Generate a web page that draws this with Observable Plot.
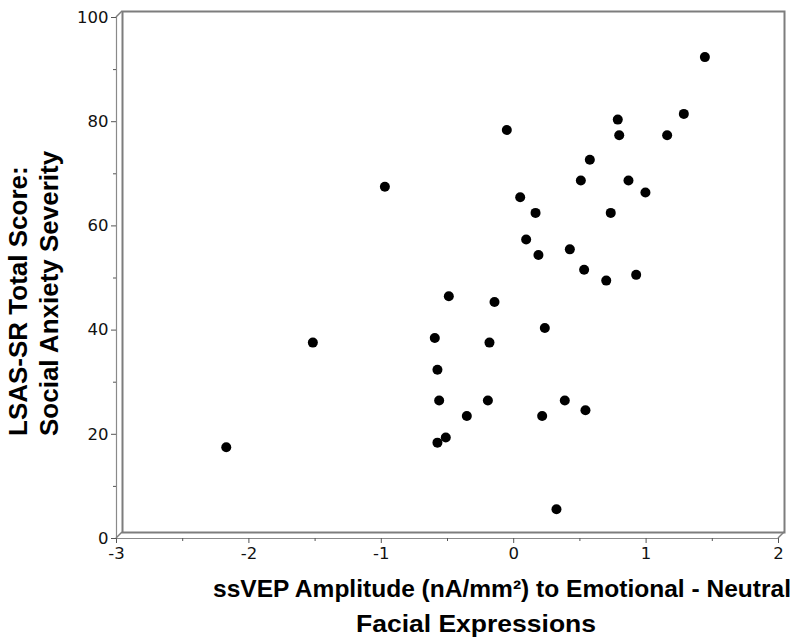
<!DOCTYPE html>
<html>
<head>
<meta charset="utf-8">
<script src="https://cdn.jsdelivr.net/npm/d3@7"></script>
<script src="https://cdn.jsdelivr.net/npm/@observablehq/plot@0.6"></script>
<style>
  html, body { margin: 0; padding: 0; background: #fff; }
  #chart svg { display: block; }
  #chart svg g[aria-label$="tick label"] { font-size: 16.5px; fill: #111; }
</style>
</head>
<body>
<div id="chart"></div>
<script>
// ssVEP amplitude difference (emotional - neutral), nA/mm²
const amplitude = [
  1.444, 1.285, 0.786, 0.797, 1.159, -0.052, 0.575, 0.507, 0.867, 0.995,
  -0.973, 0.049, 0.165, 0.733, 0.094, 0.187, 0.424, 0.532, 0.699, 0.925,
  -1.517, -2.171, -0.596, -0.183, 0.235, -0.576, -0.563, -0.195, 0.386, 0.542,
  -0.354, 0.215, -0.513, -0.576, 0.323, -0.145, -0.490
];
// LSAS-SR total score
const lsas = [
  92.4, 81.5, 80.4, 77.4, 77.4, 78.4, 72.7, 68.7, 68.7, 66.4,
  67.5, 65.5, 62.5, 62.5, 57.4, 54.4, 55.5, 51.6, 49.5, 50.6,
  37.6, 17.5, 38.5, 37.6, 40.4, 32.4, 26.5, 26.5, 26.5, 24.6,
  23.5, 23.5, 19.4, 18.4, 5.6, 45.4, 46.5
];
const xMajorTicks = [-3, -2, -1, 0, 1, 2];
const xMinorTicks = [-2.5, -1.5, -0.5, 0.5, 1.5];
const yMajorTicks = [0, 20, 40, 60, 80, 100];
const yMinorTicks = [10, 30, 50, 70, 90];
const xTitle = ["ssVEP Amplitude (nA/mm²) to Emotional - Neutral", "Facial Expressions"];
const yTitle = ["LSAS-SR Total Score:", "Social Anxiety Severity"];

const points = amplitude.map((a, i) => ({x: a, y: lsas[i]}));
const fmt = d => String(d);
const axisGray = "#8a8a8a";

const plot = Plot.plot({
  width: 800,
  height: 641,
  marginLeft: 116,
  marginRight: 22,
  marginTop: 17,
  marginBottom: 103,
  style: {fontFamily: "'DejaVu Sans', sans-serif", fontSize: "16px", color: "#1a1a1a", background: "#fff"},
  x: {domain: [-3, 2], ticks: xMajorTicks},
  y: {domain: [0, 100], ticks: yMajorTicks},
  marks: [
    Plot.frame({dx: 6, dy: -6, stroke: "#7d7d7d", strokeWidth: 2}),
    Plot.ruleY([0], {stroke: axisGray, strokeWidth: 1.2}),
    Plot.ruleX([-3], {stroke: axisGray, strokeWidth: 1.2}),
    Plot.axisX(xMajorTicks, {tickSize: 5, tickPadding: 4, tickFormat: fmt, stroke: "#555", label: null}),
    Plot.axisX(xMinorTicks, {tickSize: 3, tickFormat: () => "", stroke: "#555", label: null}),
    Plot.axisY(yMajorTicks, {tickSize: 5, tickPadding: 3, tickFormat: fmt, stroke: "#555", label: null}),
    Plot.axisY(yMinorTicks, {tickSize: 3, tickFormat: () => "", stroke: "#555", label: null}),
    Plot.dot(points, {x: "x", y: "y", r: 5, fill: "#000", stroke: "none"})
  ]
});

// 3D-style connectors between axis corners and the offset frame, via the plot's scales
const sx = plot.scale("x"), sy = plot.scale("y");
const svg = d3.select(plot);
const corners = [[-3, 100], [-3, 0], [2, 0]];
svg.append("g").attr("stroke", "#7d7d7d").attr("stroke-width", 1.5)
  .selectAll("line").data(corners).join("line")
  .attr("x1", d => sx.apply(d[0])).attr("y1", d => sy.apply(d[1]))
  .attr("x2", d => sx.apply(d[0]) + 6).attr("y2", d => sy.apply(d[1]) - 6);

// Axis titles
const tx = svg.append("g").attr("font-family", "'Liberation Sans', Arial, sans-serif")
  .attr("font-weight", "bold").attr("font-size", 24.5).attr("fill", "#000");
tx.append("text").attr("x", 502).attr("y", 597).attr("text-anchor", "middle")
  .attr("textLength", 578).attr("lengthAdjust", "spacingAndGlyphs").text(xTitle[0]);
tx.append("text").attr("x", 476).attr("y", 632).attr("text-anchor", "middle")
  .attr("textLength", 240).attr("lengthAdjust", "spacingAndGlyphs").text(xTitle[1]);
const ty = svg.append("g").attr("font-family", "'Liberation Sans', Arial, sans-serif")
  .attr("font-weight", "bold").attr("font-size", 26).attr("fill", "#000");
ty.append("text").attr("transform", "translate(27,436) rotate(-90)").attr("text-anchor", "start").text(yTitle[0]);
ty.append("text").attr("transform", "translate(58,436) rotate(-90)").attr("text-anchor", "start").text(yTitle[1]);

document.getElementById("chart").append(plot);
</script>
</body>
</html>
